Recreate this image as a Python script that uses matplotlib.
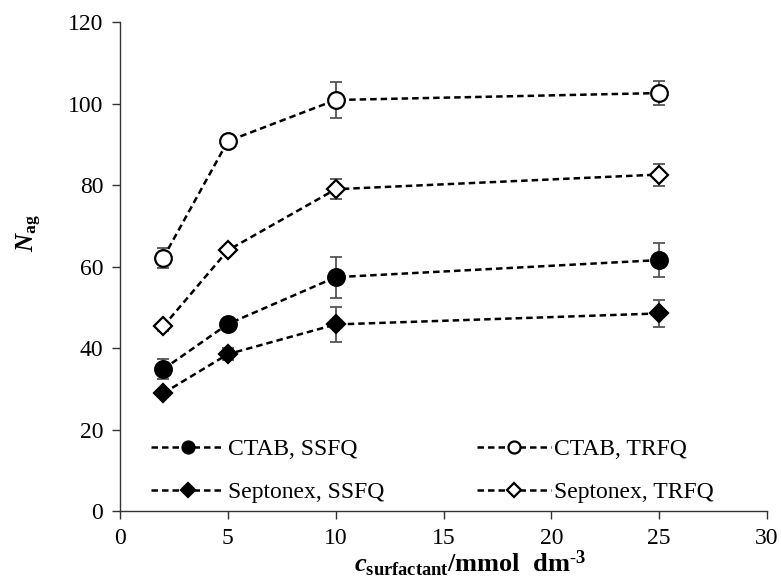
import matplotlib
matplotlib.use("Agg")
import matplotlib.pyplot as plt

plt.rcParams["font.family"] = ["Liberation Serif", "DejaVu Serif"]
plt.rcParams["mathtext.fontset"] = "custom"
plt.rcParams["mathtext.rm"] = "Liberation Serif"
plt.rcParams["mathtext.it"] = "Liberation Serif:italic"
plt.rcParams["mathtext.bf"] = "Liberation Serif:bold"
plt.rcParams["mathtext.bfit"] = "Liberation Serif:italic:bold"

# data
conc = [2, 5, 10, 25]
ctab_ssfq = [34.8, 45.9, 57.4, 61.6]
ctab_ssfq_err = [2.5, 1.0, 5.0, 4.2]
ctab_trfq = [62.1, 90.8, 100.9, 102.6]
ctab_trfq_err = [2.4, 1.0, 4.3, 3.0]
sept_ssfq = [28.9, 38.5, 45.8, 48.5]
sept_ssfq_err = [1.0, 1.5, 4.3, 3.4]
sept_trfq = [45.3, 64.0, 79.0, 82.6]
sept_trfq_err = [1.0, 1.0, 2.5, 2.7]

fig = plt.figure(figsize=(7.81, 5.84), dpi=100)
ax = fig.add_axes([0.1537, 0.125, 0.8284, 0.837])

series = [
    (ctab_ssfq, ctab_ssfq_err, "o", "black", 12, "CTAB, SSFQ"),
    (sept_ssfq, sept_ssfq_err, "D", "black", 9.5, "Septonex, SSFQ"),
    (ctab_trfq, ctab_trfq_err, "o", "white", 12, "CTAB, TRFQ"),
    (sept_trfq, sept_trfq_err, "D", "white", 9.5, "Septonex, TRFQ"),
]

handles = []
for vals, err, mk, fc, ms, lab in series:
    ax.errorbar(conc, vals, yerr=err, fmt="none", ecolor="#555555",
                elinewidth=1.3, capsize=4, capthick=1.3, zorder=2)
    h, = ax.plot(conc, vals, linestyle=(0, (2.6, 1.6)), color="black", lw=1.8,
                 marker=mk, markersize=ms, markerfacecolor=fc,
                 markeredgecolor="black", markeredgewidth=1.6, label=lab, zorder=3)
    handles.append(h)

ax.set_xlim(0, 30)
ax.set_ylim(0, 120)
ax.set_xticks(range(0, 31, 5))
ax.set_yticks(range(0, 121, 20))
ax.spines["top"].set_visible(False)
ax.spines["right"].set_visible(False)
for s in ("left", "bottom"):
    ax.spines[s].set_color("#333333")
    ax.spines[s].set_linewidth(1.0)
ax.tick_params(direction="out", length=6, width=1, colors="#333333",
               labelcolor="black", labelsize=17, pad=6)

ax.set_xlabel(r"$\mathbfit{c}_{\mathbf{surfactant}}$/mmol  dm$^{\text{-}\mathbf{3}}$",
              fontsize=19, fontweight="bold")
ax.xaxis.set_label_coords(0.541, -0.078)
ax.set_ylabel(r"$\mathbfit{N}_{\mathbf{ag}}$", fontsize=18, fontweight="bold")
ax.yaxis.set_label_coords(-0.118, 0.568)

ax.legend(handles=handles, ncol=2, loc="lower left",
          bbox_to_anchor=(0.015, -0.028), frameon=False, fontsize=17,
          markerscale=0.72, handlelength=3.1, handletextpad=0.15,
          columnspacing=3.95, labelspacing=0.92)

fig.savefig("out.png", dpi=100)
